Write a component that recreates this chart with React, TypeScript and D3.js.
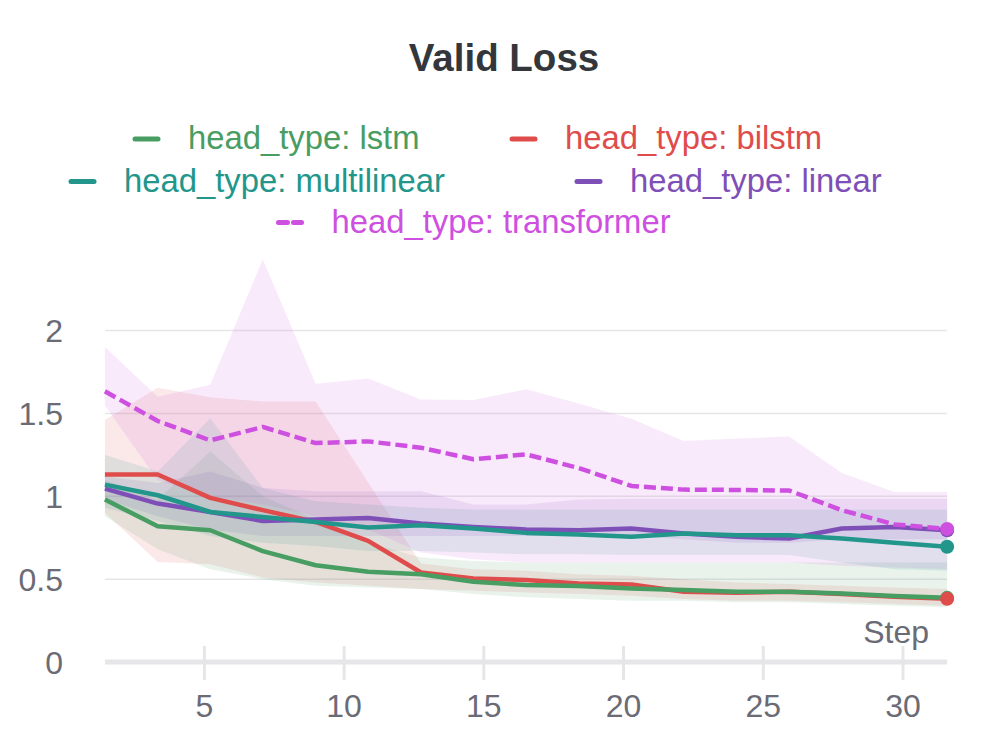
import React, { useEffect, useRef } from 'react';
import * as d3 from 'd3';

// steps where the runs were evaluated
const steps = [1.44, 3.33, 5.21, 7.09, 8.98, 10.86, 12.75, 14.63, 16.51, 18.4, 20.28, 22.16, 24.05, 25.93, 27.81, 29.7, 31.58];

const lstmMean = [0.98, 0.819, 0.795, 0.669, 0.584, 0.544, 0.53, 0.484, 0.464, 0.458, 0.444, 0.434, 0.424, 0.424, 0.414, 0.398, 0.387];
const lstmMax = [1.1, 0.98, 1.27, 1.0, 0.86, 0.72, 0.63, 0.61, 0.6, 0.6, 0.6, 0.6, 0.6, 0.6, 0.6, 0.6, 0.6];
const lstmMin = [0.88, 0.68, 0.56, 0.5, 0.46, 0.45, 0.44, 0.41, 0.39, 0.38, 0.37, 0.37, 0.36, 0.36, 0.35, 0.34, 0.33];

const bilstmMean = [1.131, 1.131, 0.99, 0.916, 0.845, 0.731, 0.54, 0.504, 0.494, 0.474, 0.468, 0.424, 0.418, 0.424, 0.41, 0.393, 0.381];
const bilstmMax = [1.46, 1.655, 1.598, 1.572, 1.572, 1.083, 0.594, 0.56, 0.55, 0.53, 0.52, 0.5, 0.48, 0.47, 0.46, 0.45, 0.44];
const bilstmMin = [0.9, 0.604, 0.59, 0.51, 0.48, 0.46, 0.44, 0.43, 0.42, 0.41, 0.4, 0.38, 0.37, 0.37, 0.36, 0.35, 0.34];

const multilinearMean = [1.07, 1.006, 0.905, 0.875, 0.845, 0.811, 0.825, 0.805, 0.779, 0.769, 0.755, 0.775, 0.765, 0.765, 0.745, 0.719, 0.695];
const multilinearMax = [1.25, 1.15, 1.47, 1.05, 0.97, 0.95, 0.93, 0.92, 0.92, 0.92, 0.92, 0.92, 0.92, 0.92, 0.92, 0.92, 0.92];
const multilinearMin = [0.93, 0.85, 0.76, 0.72, 0.7, 0.67, 0.67, 0.66, 0.65, 0.65, 0.645, 0.645, 0.645, 0.645, 0.6, 0.56, 0.55];

const linearMean = [1.046, 0.956, 0.905, 0.851, 0.86, 0.869, 0.835, 0.815, 0.8, 0.795, 0.805, 0.775, 0.755, 0.745, 0.805, 0.815, 0.795];
const linearMax = [1.12, 1.08, 1.15, 1.05, 1.03, 1.03, 1.03, 0.95, 0.95, 0.98, 0.985, 0.985, 0.985, 0.985, 0.985, 0.985, 0.985];
const linearMin = [0.98, 0.88, 0.8, 0.76, 0.76, 0.76, 0.76, 0.76, 0.76, 0.76, 0.76, 0.74, 0.72, 0.72, 0.74, 0.74, 0.74];

const transformerMean = [1.633, 1.454, 1.337, 1.418, 1.321, 1.331, 1.293, 1.223, 1.253, 1.17, 1.062, 1.04, 1.038, 1.034, 0.916, 0.83, 0.803];
const transformerMax = [1.9, 1.6, 1.673, 2.43, 1.679, 1.71, 1.584, 1.58, 1.646, 1.56, 1.468, 1.333, 1.348, 1.361, 1.14, 1.026, 1.026];
const transformerMin = [1.548, 1.096, 1.0, 0.95, 0.88, 0.8, 0.66, 0.62, 0.6, 0.6, 0.6, 0.6, 0.6, 0.6, 0.58, 0.57, 0.56];

const yTicks = [0, 0.5, 1, 1.5, 2];
const xTicks = [5, 10, 15, 20, 25, 30];

const series = [
  { name: 'head_type: bilstm', color: '#e04b4b', dashed: false, mean: bilstmMean, max: bilstmMax, min: bilstmMin },
  { name: 'head_type: lstm', color: '#489d62', dashed: false, mean: lstmMean, max: lstmMax, min: lstmMin },
  { name: 'head_type: linear', color: '#7f4fb8', dashed: false, mean: linearMean, max: linearMax, min: linearMin },
  { name: 'head_type: multilinear', color: '#22968a', dashed: false, mean: multilinearMean, max: multilinearMax, min: multilinearMin },
  { name: 'head_type: transformer', color: '#cd50e0', dashed: true, mean: transformerMean, max: transformerMax, min: transformerMin },
];

const App = () => {
  const svgRef = useRef<SVGSVGElement>(null);

  useEffect(() => {
    const svg = d3.select(svgRef.current);
    svg.selectAll('*').remove();

    const width = 1008;
    const height = 753;
    const font = '"Liberation Sans", Arial, sans-serif';
    const labelColor = '#6b6b76';
    svg.attr('width', width).attr('height', height);

    const x = d3.scaleLinear().domain([5, 30]).range([204.4, 903]);
    const y = d3.scaleLinear().domain([0, 2]).range([662, 330.5]);
    const x0 = x(steps[0]);
    const x1 = x(steps[steps.length - 1]);

    // title
    svg.append('text')
      .attr('x', 504).attr('y', 71)
      .attr('text-anchor', 'middle')
      .attr('font-family', font).attr('font-size', 38.5).attr('font-weight', 'bold')
      .attr('fill', '#33373c')
      .text('Valid Loss');

    // legend
    const legendPos: Record<string, [number, number]> = {
      'head_type: lstm': [133, 139],
      'head_type: bilstm': [510, 139],
      'head_type: multilinear': [69, 181.5],
      'head_type: linear': [575, 181.5],
      'head_type: transformer': [276.5, 222.5],
    };
    series.forEach(s => {
      const [lx, ly] = legendPos[s.name];
      const g = svg.append('g').attr('transform', `translate(${lx},${ly})`);
      if (s.dashed) {
        g.append('line').attr('x1', 2).attr('x2', 11).attr('y1', 0).attr('y2', 0)
          .attr('stroke', s.color).attr('stroke-width', 5).attr('stroke-linecap', 'round');
        g.append('line').attr('x1', 17).attr('x2', 25).attr('y1', 0).attr('y2', 0)
          .attr('stroke', s.color).attr('stroke-width', 5).attr('stroke-linecap', 'round');
      } else {
        g.append('line').attr('x1', 2).attr('x2', 25).attr('y1', 0).attr('y2', 0)
          .attr('stroke', s.color).attr('stroke-width', 5).attr('stroke-linecap', 'round');
      }
      g.append('text')
        .attr('x', 55).attr('y', 10)
        .attr('font-family', font).attr('font-size', 32.8)
        .attr('fill', s.color)
        .text(s.name);
    });

    // grid
    const grid = svg.append('g');
    grid.selectAll('line')
      .data(yTicks.filter(t => t > 0))
      .enter().append('line')
      .attr('x1', x0).attr('x2', x1)
      .attr('y1', d => y(d)).attr('y2', d => y(d))
      .attr('stroke', '#e6e6e8').attr('stroke-width', 1.5);

    // x ticks
    svg.append('g').selectAll('line')
      .data(xTicks)
      .enter().append('line')
      .attr('x1', d => x(d)).attr('x2', d => x(d))
      .attr('y1', 646).attr('y2', 680)
      .attr('stroke', '#e6e6e8').attr('stroke-width', 3);

    svg.append('line')
      .attr('x1', x0).attr('x2', x1)
      .attr('y1', y(0)).attr('y2', y(0))
      .attr('stroke', '#e6e6e8').attr('stroke-width', 5);

    // y labels
    svg.append('g').selectAll('text')
      .data(yTicks)
      .enter().append('text')
      .attr('x', 63).attr('y', d => y(d))
      .attr('dy', '0.36em')
      .attr('text-anchor', 'end')
      .attr('font-family', font).attr('font-size', 32)
      .attr('fill', labelColor)
      .text(d => String(d));

    // x labels
    svg.append('g').selectAll('text')
      .data(xTicks)
      .enter().append('text')
      .attr('x', d => x(d)).attr('y', 717)
      .attr('text-anchor', 'middle')
      .attr('font-family', font).attr('font-size', 32)
      .attr('fill', labelColor)
      .text(d => String(d));

    svg.append('text')
      .attr('x', 929).attr('y', 643)
      .attr('text-anchor', 'end')
      .attr('font-family', font).attr('font-size', 32)
      .attr('fill', labelColor)
      .text('Step');

    // bands
    const bandLayer = svg.append('g');
    series.forEach(s => {
      const area = d3.area<number>()
        .x((_, i) => x(steps[i]))
        .y0((_, i) => y(s.min[i]))
        .y1(d => y(d));
      bandLayer.append('path')
        .attr('d', area(s.max))
        .attr('fill', s.color)
        .attr('fill-opacity', 0.12);
    });

    // lines
    const lineLayer = svg.append('g');
    series.forEach(s => {
      const line = d3.line<number>()
        .x((_, i) => x(steps[i]))
        .y(d => y(d));
      lineLayer.append('path')
        .attr('d', line(s.mean))
        .attr('fill', 'none')
        .attr('stroke', s.color)
        .attr('stroke-width', 4.5)
        .attr('stroke-linejoin', 'round')
        .attr('stroke-dasharray', s.dashed ? '12,5' : null);
    });

    // end markers
    const last = steps.length - 1;
    const markerOrder = [series[1], series[0], series[2], series[3], series[4]];
    svg.append('g').selectAll('circle')
      .data(markerOrder)
      .enter().append('circle')
      .attr('cx', x(steps[last]))
      .attr('cy', d => y(d.mean[last]))
      .attr('r', 7)
      .attr('fill', d => d.color);
  }, []);

  return (
    <svg ref={svgRef} style={{ position: 'absolute', left: 0, top: 0, background: '#fff' }}></svg>
  );
};

export default App;
